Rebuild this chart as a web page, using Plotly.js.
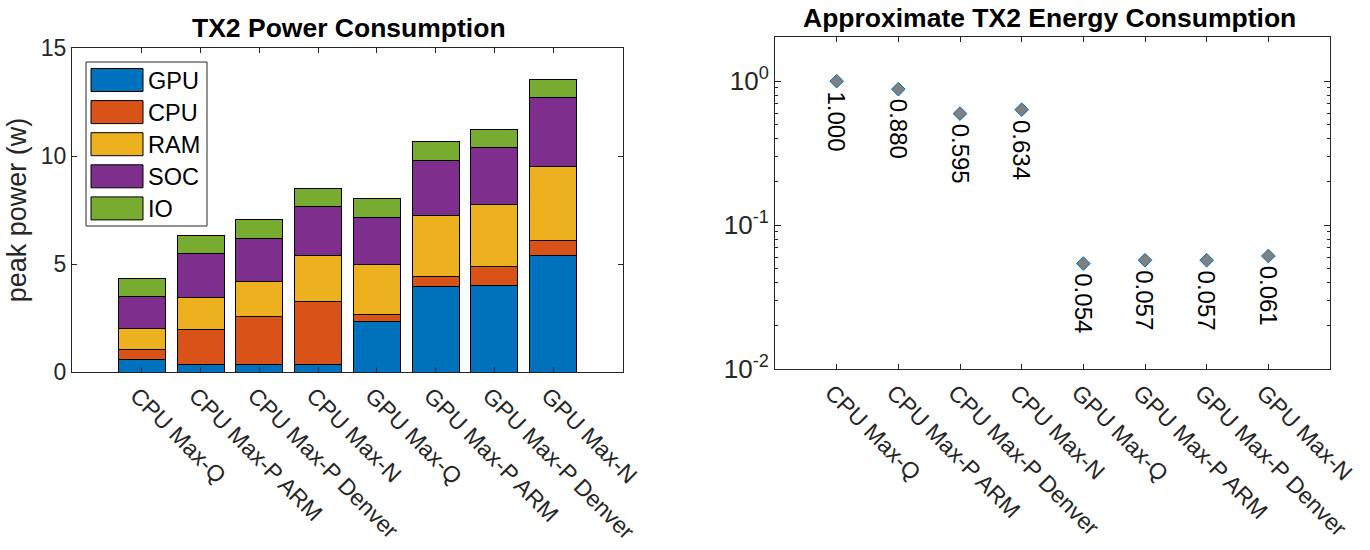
<!DOCTYPE html>
<html>
<head>
<meta charset="utf-8">
<script src="https://cdn.plot.ly/plotly-3.0.1.min.js"></script>
<style>html,body{margin:0;padding:0;background:#fff;}#chart{width:1370px;height:550px;}</style>
</head>
<body>
<div id="chart"></div>
<script>
var categories = ["CPU Max-Q","CPU Max-P ARM","CPU Max-P Denver","CPU Max-N","GPU Max-Q","GPU Max-P ARM","GPU Max-P Denver","GPU Max-N"];
var seriesNames = ["GPU","CPU","RAM","SOC","IO"];
var gpuPower = [0.59,0.36,0.36,0.36,2.35,3.94,4.01,5.40];
var cpuPower = [0.46,1.62,2.22,2.91,0.29,0.47,0.87,0.68];
var ramPower = [0.97,1.46,1.62,2.12,2.34,2.84,2.88,3.43];
var socPower = [1.47,2.05,2.00,2.28,2.18,2.56,2.64,3.18];
var ioPower  = [0.85,0.85,0.87,0.83,0.86,0.85,0.85,0.86];
var energy = [1.000,0.880,0.595,0.634,0.054,0.057,0.057,0.061];
var powerTicks = [0,5,10,15];
var energyTickVals = [0.01,0.1,1];
var energyTickText = ["10<sup>-2</sup>","10<sup>-1</sup>","10<sup>0</sup>"];

var colors = ["#0072BD","#D95319","#EDB120","#7E2F8E","#77AC30"];
var series = [gpuPower,cpuPower,ramPower,socPower,ioPower];
var W = 1370, H = 550;
function px(x){return x/W;}
function py(y){return 1-y/H;}
var FONT = "Liberation Sans, Arial, Helvetica, sans-serif";
var AX = "#262626";

var xs = categories.map(function(c,i){return i+1;});
var traces = [];
series.forEach(function(s,k){
  traces.push({type:"bar", x:xs, y:s, name:seriesNames[k], width:0.8,
    marker:{color:colors[k], line:{color:"#000000", width:1}},
    xaxis:"x", yaxis:"y", showlegend:false, hoverinfo:"y+name"});
});
traces.push({type:"scatter", mode:"markers", x:xs, y:energy, xaxis:"x2", yaxis:"y2",
  marker:{symbol:"diamond", size:10.5, color:"#808080", line:{color:"#0072BD", width:1}},
  showlegend:false});

var shapes = [], annotations = [];
// legend box
var lgL = 86, lgR = 207, lgT = 62, lgB = 226;
shapes.push({type:"rect", xref:"paper", yref:"paper", x0:px(lgL), x1:px(lgR), y0:py(lgB), y1:py(lgT),
  line:{color:AX, width:1}, fillcolor:"#ffffff", layer:"above"});
seriesNames.forEach(function(n,k){
  var cy = 80 + k*32.1;
  shapes.push({type:"rect", xref:"paper", yref:"paper", x0:px(91), x1:px(143), y0:py(cy+11.5), y1:py(cy-11.5),
    line:{color:"#000000", width:1}, fillcolor:colors[k], layer:"above"});
  annotations.push({xref:"paper", yref:"paper", x:px(146), y:py(cy+1), xanchor:"left", yanchor:"middle",
    text:n, showarrow:false, font:{family:FONT, size:23.5, color:"#000000"}});
});
// titles
annotations.push({xref:"paper", yref:"paper", x:px(349), y:py(28), xanchor:"center", yanchor:"middle",
  text:"<b>TX2 Power Consumption</b>", showarrow:false, font:{family:FONT, size:26.5, color:"#000000"}});
annotations.push({xref:"paper", yref:"paper", x:px(1049), y:py(18), xanchor:"center", yanchor:"middle",
  text:"<b>Approximate TX2 Energy Consumption</b>", showarrow:false, font:{family:FONT, size:26.5, color:"#000000"}});
// value labels
energy.forEach(function(v,i){
  annotations.push({xref:"x2", yref:"y2", x:xs[i], y:Math.log10(v), text:v.toFixed(3), textangle:90,
    xanchor:"center", yanchor:"top", yshift:-8, showarrow:false, font:{family:FONT, size:24, color:"#000000"}});
});

var minorVals = [];
[0.01,0.1,1].forEach(function(d){ for(var m=2;m<=9;m++){ minorVals.push(m*d); } });

var axisBase = {showline:true, linecolor:AX, linewidth:1, mirror:"ticks", ticks:"inside",
  tickcolor:AX, tickwidth:1, showgrid:false, zeroline:false,
  tickfont:{family:FONT, size:23, color:AX}};

var layout = {
  width:W, height:H, margin:{l:0,r:0,t:0,b:0}, paper_bgcolor:"#fff", plot_bgcolor:"#fff",
  barmode:"stack", bargap:0.2, showlegend:false,
  font:{family:FONT, color:AX},
  xaxis: Object.assign({}, axisBase, {domain:[px(72), px(623)], anchor:"y", range:[-0.19, 9.19],
    tickmode:"array", tickvals:xs, ticktext:categories, tickangle:45, ticklen:5, ticklabelshift:-5}),
  yaxis: Object.assign({}, axisBase, {domain:[py(372), py(48)], anchor:"x", range:[0,15],
    tickmode:"array", tickvals:powerTicks, ticklen:5,
    title:{text:"peak power (w)", font:{family:FONT, size:27, color:AX}, standoff:6}}),
  xaxis2: Object.assign({}, axisBase, {domain:[px(775), px(1330)], anchor:"y2", range:[0,9],
    tickmode:"array", tickvals:xs, ticktext:categories, tickangle:45, ticklen:5, ticklabelshift:-5}),
  yaxis2: Object.assign({}, axisBase, {domain:[py(369), py(37)], anchor:"x2", type:"log", range:[-2, 0.307],
    tickmode:"array", tickvals:energyTickVals, ticktext:energyTickText, ticklen:6,
    tickfont:{family:FONT, size:26, color:AX},
    minor:{tickmode:"array", tickvals:minorVals, ticks:"inside", ticklen:3, tickcolor:AX, tickwidth:1, showgrid:false}}),
  shapes:shapes, annotations:annotations
};
Plotly.newPlot("chart", traces, layout, {staticPlot:true, displayModeBar:false});
</script>
</body>
</html>
